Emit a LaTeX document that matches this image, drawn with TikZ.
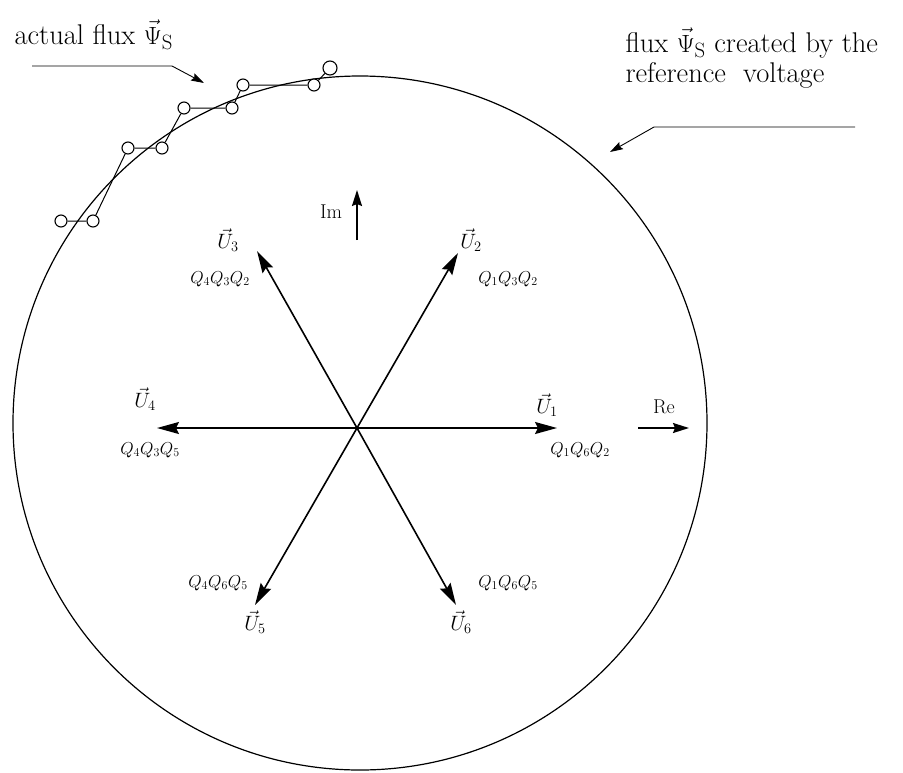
\documentclass[tikz,border=0pt]{standalone}
\usepackage{amsmath, amssymb}
\usepackage{tikz}
\usetikzlibrary{arrows.meta}

\begin{document}
\begin{tikzpicture}[x=1pt, y=-1pt, font=\fontsize{17}{20}\selectfont,
    vec/.style={-{Stealth[length=22pt,width=12pt,inset=3pt]}, line width=1.6pt},
    axis/.style={-{Stealth[length=16pt,width=10pt,inset=2pt]}, line width=1.6pt},
    callout/.style={-{Stealth[length=13pt,width=8pt,inset=2pt]}, line width=0.9pt},
    ring/.style={circle, draw, line width=1.1pt, fill=white, inner sep=0pt, minimum size=12pt},
    ulab/.style={font=\fontsize{22}{24}\selectfont},
    axlab/.style={font=\fontsize{20}{24}\selectfont},
    big/.style={font=\fontsize{28.5}{30}\selectfont}]
  \useasboundingbox (0,0) rectangle (903,772);
  \draw[line width=1.2pt] (360,423) circle[radius=347pt];
  % voltage vectors
  \coordinate (O) at (357,428);
  \coordinate (u1) at (557,428); \coordinate (u2) at (458,253); \coordinate (u3) at (257,251);
  \coordinate (u4) at (157,428); \coordinate (u5) at (255,605); \coordinate (u6) at (456,605);
  \foreach \k in {1,...,6} \draw[vec] (O) -- (u\k);
  \node[ulab] (l1) at (547,405) {$\vec{U}_1$};  \node (q1) at (580,450) {$Q_1Q_6Q_2$};
  \node[ulab] (l2) at (471,240) {$\vec{U}_2$};  \node (q2) at (508,279) {$Q_1Q_3Q_2$};
  \node[ulab] (l3) at (228,240) {$\vec{U}_3$};  \node (q3) at (220,279) {$Q_4Q_3Q_2$};
  \node[ulab] (l4) at (145,399) {$\vec{U}_4$};  \node (q4) at (150,450) {$Q_4Q_3Q_5$};
  \node[ulab] (l5) at (255,622) {$\vec{U}_5$};  \node (q5) at (218,583) {$Q_4Q_6Q_5$};
  \node[ulab] (l6) at (461,622) {$\vec{U}_6$};  \node (q6) at (508,583) {$Q_1Q_6Q_5$};
  % axes
  \coordinate (im0) at (357,240); \coordinate (im1) at (357,190);
  \coordinate (re0) at (638,428); \coordinate (re1) at (689,428);
  \draw[axis] (im0) -- (im1); \draw[axis] (re0) -- (re1);
  \node[axlab] (im) at (331,212) {Im}; \node[axlab] (re) at (664,407) {Re};
  % actual flux staircase
  \node[ring] (s1) at (61,221) {};  \node[ring] (s2) at (93,221) {};
  \node[ring] (s3) at (128,148) {}; \node[ring] (s4) at (162,148) {};
  \node[ring] (s5) at (184,108) {}; \node[ring] (s6) at (232,108) {};
  \node[ring] (s7) at (243,85) {};  \node[ring] (s8) at (314,85) {};
  \node[ring, minimum size=14pt] (s9) at (330,68) {};
  \draw[line width=1pt] (s1) -- (s2) -- (s3) -- (s4) -- (s5) -- (s6) -- (s7) -- (s8) -- (s9);
  % callouts
  \node[big, anchor=base west] (act) at (11,44) {actual flux $\vec{\Psi}_{\mathrm{S}}$};
  \node[big, anchor=base west, align=left] (ref) at (622,82) {flux $\vec{\Psi}_{\mathrm{S}}$ created by the\\reference\ \ voltage};
  \coordinate (a1) at (32,66); \coordinate (a2) at (172,66); \coordinate (a3) at (204,83);
  \draw[callout] (a1) -- (a2) -- (a3);
  \coordinate (b1) at (855,127); \coordinate (b2) at (654,127); \coordinate (b3) at (610,152);
  \draw[callout] (b1) -- (b2) -- (b3);
\end{tikzpicture}
\end{document}
